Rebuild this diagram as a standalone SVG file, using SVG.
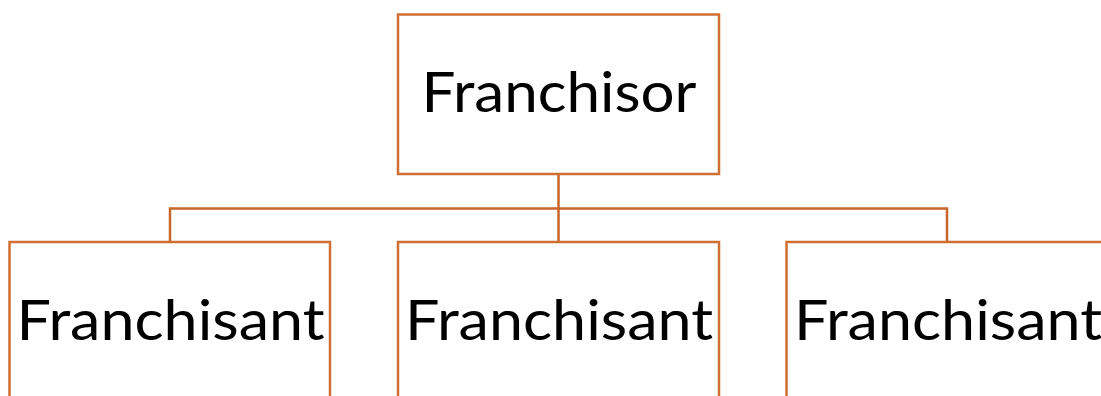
<svg xmlns="http://www.w3.org/2000/svg" width="1101" height="396" viewBox="0 0 1101 396">
<style>
.box{fill:#FFFFFF;stroke:#D07030;stroke-width:2.5}
.conn{fill:none;stroke:#C8652A;stroke-width:2.5}
.lbl{font-family:Lato,"Open Sans","Liberation Sans",sans-serif;font-size:57px;fill:#000000;text-anchor:middle}
</style>
<rect width="1101" height="396" fill="#FFFFFF"/>
<g id="connectors">
<path class="conn" d="M558.5 174 V208.5 M170 241.5 V208.5 H947 V241.5 M558.5 208.5 V241.5"/>
</g>
<g id="franchisor">
<rect class="box" x="398" y="14.5" width="321" height="159.5"/>
<text class="lbl" x="559" y="112" textLength="275" lengthAdjust="spacingAndGlyphs">Franchisor</text>
</g>
<g id="franchisant1">
<rect class="box" x="9.5" y="242" width="320.5" height="170"/>
<text class="lbl" x="170.5" y="340" textLength="308" lengthAdjust="spacingAndGlyphs">Franchisant</text>
</g>
<g id="franchisant2">
<rect class="box" x="398" y="242" width="321" height="170"/>
<text class="lbl" x="559" y="340" textLength="308" lengthAdjust="spacingAndGlyphs">Franchisant</text>
</g>
<g id="franchisant3">
<rect class="box" x="786.5" y="242" width="321" height="170"/>
<text class="lbl" x="948" y="340" textLength="308" lengthAdjust="spacingAndGlyphs">Franchisant</text>
</g>
</svg>
